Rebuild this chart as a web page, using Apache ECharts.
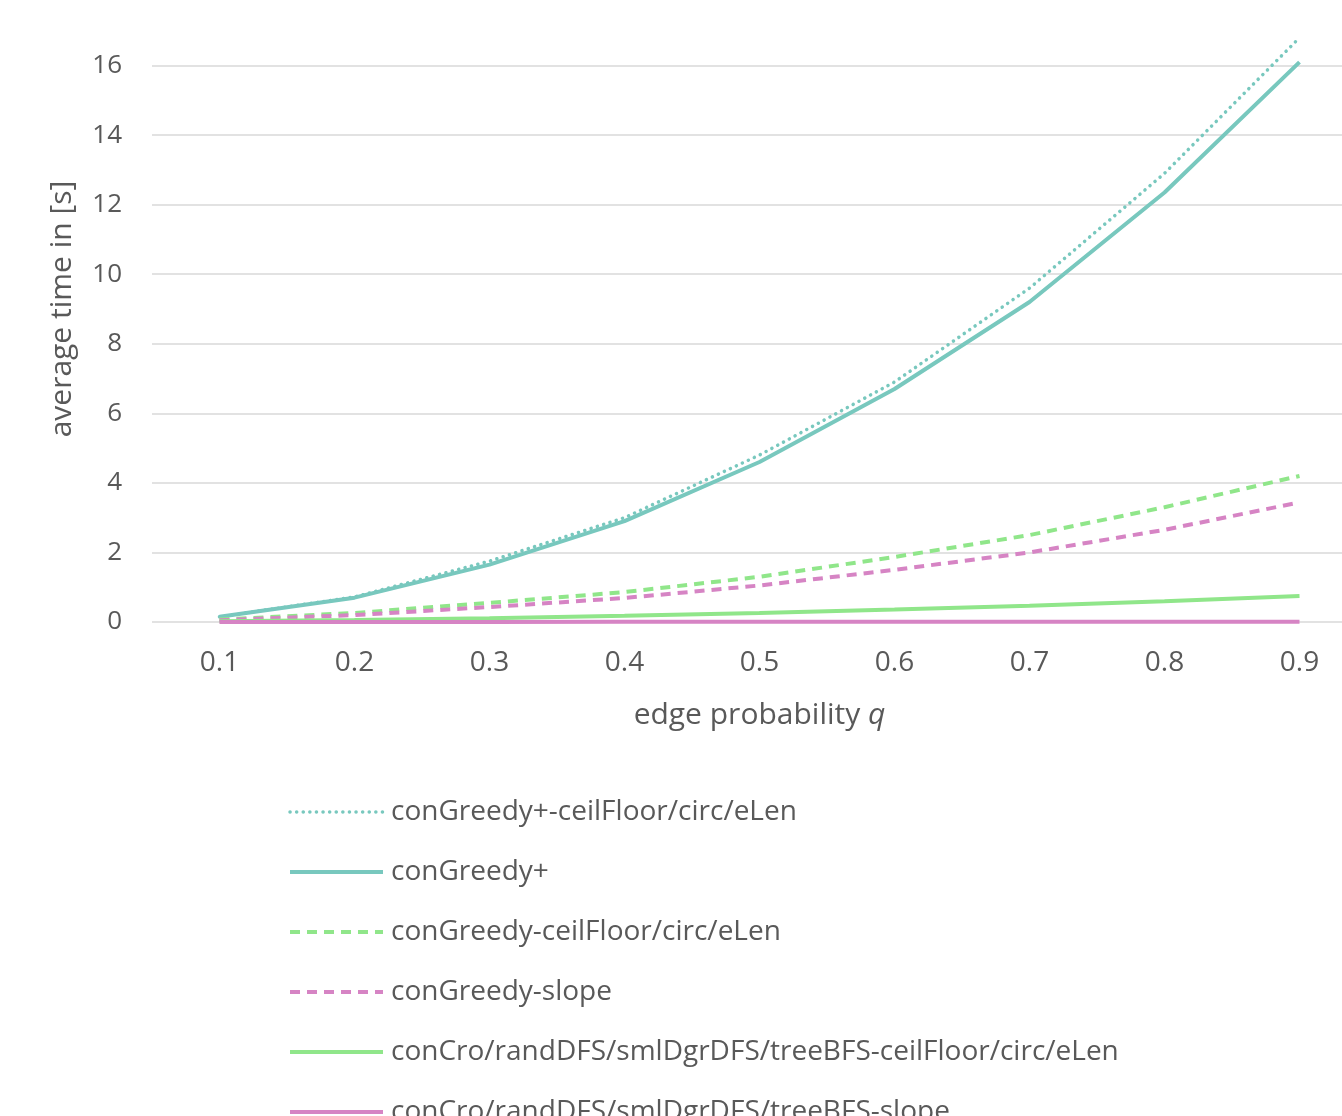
<!DOCTYPE html>
<html>
<head>
<meta charset="utf-8">
<script src="https://cdn.jsdelivr.net/npm/echarts@6/dist/echarts.min.js"></script>
<style>
html,body{margin:0;padding:0;background:#fff;overflow:hidden;width:1342px;height:1116px;}
#main{position:absolute;left:0;top:-4px;width:1367px;height:1300px;}
</style>
</head>
<body>
<div id="main"></div>
<script>
const categories = ['0.1','0.2','0.3','0.4','0.5','0.6','0.7','0.8','0.9'];
const seriesNames = [
  'conGreedy+-ceilFloor/circ/eLen',
  'conGreedy+',
  'conGreedy-ceilFloor/circ/eLen',
  'conGreedy-slope',
  'conCro/randDFS/smlDgrDFS/treeBFS-ceilFloor/circ/eLen',
  'conCro/randDFS/smlDgrDFS/treeBFS-slope'
];
const conGreedyPlusCeil = [0.15, 0.72, 1.75, 3.0, 4.8, 6.9, 9.6, 12.9, 16.8];
const conGreedyPlus     = [0.15, 0.7, 1.65, 2.9, 4.6, 6.7, 9.2, 12.35, 16.1];
const conGreedyCeil     = [0.07, 0.26, 0.55, 0.86, 1.3, 1.87, 2.5, 3.3, 4.2];
const conGreedySlope    = [0.05, 0.2, 0.43, 0.69, 1.05, 1.5, 2.0, 2.65, 3.44];
const conCroCeil        = [0.02, 0.06, 0.11, 0.18, 0.26, 0.36, 0.47, 0.6, 0.75];
const conCroSlope       = [0.0, 0.0, 0.0, 0.01, 0.01, 0.01, 0.01, 0.01, 0.01];

const TEAL = '#78C8BE', GREEN = '#90E68A', PINK = '#D684C4', TXT = '#595959';
const FONT = 'Open Sans';

const styles = [
  { color: TEAL,  type: [0.1, 6.5], width: 3.5, cap: 'round' },
  { color: TEAL,  type: 'solid',    width: 4,   cap: 'butt' },
  { color: GREEN, type: [10, 7],    width: 4,   cap: 'butt' },
  { color: PINK,  type: [10, 7],    width: 4,   cap: 'butt' },
  { color: GREEN, type: 'solid',    width: 4,   cap: 'butt' },
  { color: PINK,  type: 'solid',    width: 4,   cap: 'butt' }
];
const datasets = [conGreedyPlusCeil, conGreedyPlus, conGreedyCeil, conGreedySlope, conCroCeil, conCroSlope];

const series = datasets.map(function (d, i) {
  const s = styles[i];
  return {
    name: seriesNames[i], type: 'line', data: d, symbol: 'none', showSymbol: false,
    lineStyle: { color: s.color, width: s.width, type: s.type, cap: s.cap },
    itemStyle: { color: s.color }
  };
});

const legendData = seriesNames.map(function (n, i) {
  const s = styles[i];
  return {
    name: n,
    itemStyle: { opacity: 0 },
    lineStyle: { color: s.color, width: s.width, type: s.type, cap: s.cap }
  };
});

const chart = echarts.init(document.getElementById('main'));
chart.setOption({
  animation: false,
  textStyle: { fontFamily: FONT, color: TXT },
  grid: { left: 152, top: 0, right: 0, height: 626, containLabel: false },
  xAxis: {
    type: 'category', data: categories, boundaryGap: true,
    axisLine: { show: false }, axisTick: { show: false },
    axisLabel: { color: TXT, fontSize: 28, margin: 27, fontFamily: FONT },
    name: 'edge probability {i|q}', nameLocation: 'middle', nameGap: 78,
    nameTextStyle: { color: TXT, fontSize: 30, fontFamily: FONT,
      rich: { i: { fontStyle: 'italic', fontSize: 30, color: TXT, fontFamily: FONT } } }
  },
  yAxis: {
    type: 'value', min: 0, max: 18, interval: 2,
    axisLine: { show: false }, axisTick: { show: false },
    splitLine: { lineStyle: { color: '#D9D9D9', width: 1.5 } },
    axisLabel: { color: TXT, fontSize: 26, margin: 30, fontFamily: FONT, showMaxLabel: false },
    name: 'average time in [s]', nameLocation: 'middle', nameGap: 75,
    nameTextStyle: { color: TXT, fontSize: 30, fontFamily: FONT }
  },
  legend: {
    orient: 'vertical', left: 283, top: 797,
    itemWidth: 93, itemHeight: 28, itemGap: 32,
    itemStyle: { opacity: 0 },
    textStyle: { color: TXT, fontSize: 28, fontFamily: FONT, padding: [0, 0, 0, 3] },
    data: legendData
  },
  series: series
});
</script>
</body>
</html>
